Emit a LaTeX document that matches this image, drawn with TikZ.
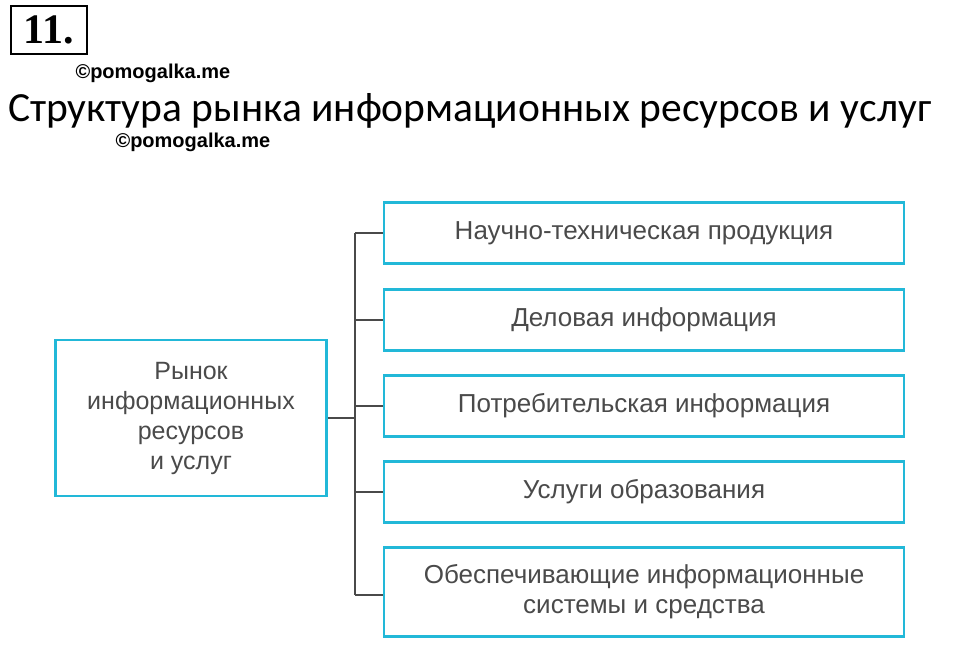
\documentclass[tikz,border=0pt]{standalone}
\usepackage{fontspec}
\setmainfont{Liberation Sans}
\newfontfamily\titlefont{Carlito}
\newfontfamily\numfont{Liberation Serif}
\usetikzlibrary{positioning}
\definecolor{boxcyan}{HTML}{22B8D8}
\definecolor{linegray}{HTML}{4A4A4A}
\tikzset{
  itembox/.style={draw=boxcyan, line width=2.5pt, minimum width=520pt, align=center,
    text=linegray, font=\fontsize{26}{30}\selectfont},
  mark line/.style={draw=linegray, line width=2pt},
  wmark/.style={font=\bfseries\fontsize{20}{22}\selectfont, anchor=west}
}
\begin{document}
\begin{tikzpicture}[x=1pt,y=-1pt]
  \useasboundingbox (0,0) rectangle (960,669);
  % heading
  \node[draw, line width=2.5pt, inner sep=3pt, minimum width=76pt, minimum height=48pt,
    font=\numfont\bfseries\fontsize{42}{44}\selectfont] (num) at (49,30) {11.};
  \node[wmark] (wm1) at (72,73) {©pomogalka.me};
  \node[anchor=west, inner sep=0pt, font=\titlefont\fontsize{41.5}{44}\selectfont] (title) at (8,111) {Структура рынка информационных ресурсов и услуг};
  \node[wmark] (wm2) at (112,142) {©pomogalka.me};

  % market box
  \node[itembox, font=\fontsize{25}{30}\selectfont, minimum width=271pt, minimum height=156pt] (market) at (191,418)
    {Рынок\\информационных\\ресурсов\\и услуг};

  % right column
  \node[itembox, minimum height=61pt] (b1) at (644,233) {Научно-техническая продукция};
  \node[itembox, minimum height=61pt] (b2) at (644,320) {Деловая информация};
  \node[itembox, minimum height=61pt] (b3) at (644,406) {Потребительская информация};
  \node[itembox, minimum height=61pt] (b4) at (644,492) {Услуги образования};
  \node[itembox, minimum height=89pt] (b5) at (644,592) {Обеспечивающие информационные\\системы и средства};

  % connectors
  \coordinate (top) at (355,233);
  \coordinate (bot) at (355,595);
  \draw[mark line] (top) -- (bot);
  \foreach \b in {b1,b2,b3,b4} {
    \draw[mark line] (\b.west -| top) -- (\b.west);
  }
  \draw[mark line] (bot) -- (bot -| b5.west);
  \draw[mark line] (market.east) -- (market.east -| top);
\end{tikzpicture}
\end{document}
